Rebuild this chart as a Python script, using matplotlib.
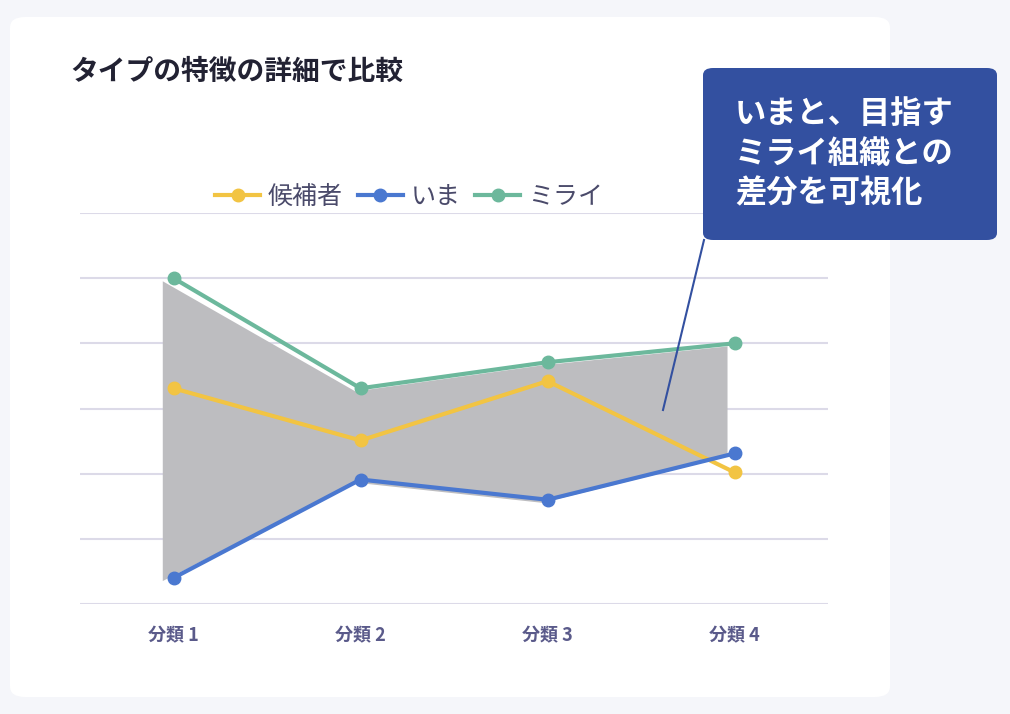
import numpy as np
import matplotlib.pyplot as plt
from matplotlib.patches import FancyBboxPatch

plt.rcParams['font.family'] = ['Noto Sans CJK JP', 'DejaVu Sans']

categories = ['分類 1', '分類 2', '分類 3', '分類 4']
candidate = [3.31, 2.51, 3.42, 2.02]
now = [0.4, 1.91, 1.6, 2.31]
future = [5.0, 3.31, 3.71, 4.0]

fig = plt.figure(figsize=(10.1, 7.14), dpi=100)
fig.patch.set_facecolor('#f5f6fa')

# white card
card = FancyBboxPatch((10 / 1010, 17 / 714), 880 / 1010, 680 / 714,
                      boxstyle='round,pad=0,rounding_size=0.015',
                      transform=fig.transFigure, facecolor='white', edgecolor='none', zorder=-10)
fig.patches.append(card)

ax = fig.add_axes([80 / 1010, 110 / 714, 748 / 1010, 391 / 714])
ax.set_zorder(2)
ax.set_facecolor('none')
ax.set_xlim(-0.5, 3.5)
ax.set_ylim(0, 6)
for v in range(7):
    ax.axhline(v, color='#dcdae8', lw=1.5, zorder=0)

x = np.arange(len(categories))
xf = x + np.array([-0.06, -0.03, -0.03, -0.04])
ax.fill_between(xf, np.array(now) - 0.04, np.array(future) - 0.04,
                color='#bdbdc0', zorder=1, lw=0)

ax.plot(x, candidate, color='#f2c443', lw=3, marker='o', ms=9, clip_on=False, zorder=3, label='候補者')
ax.plot(x, now, color='#4a78d0', lw=3, marker='o', ms=9, clip_on=False, zorder=3, label='いま')
ax.plot(x, future, color='#6cb89c', lw=3, marker='o', ms=9, clip_on=False, zorder=3, label='ミライ')

ax.set_xticks(x)
ax.set_xticklabels(categories, fontsize=13, fontweight='bold', color='#5a5a8a')
ax.tick_params(length=0, pad=16)
ax.set_yticks([])
for s in ax.spines.values():
    s.set_visible(False)

leg = ax.legend(loc='lower center', bbox_to_anchor=(0.44, 0.95), ncol=3, frameon=False,
                fontsize=18, handlelength=1.8, columnspacing=0.6, handletextpad=0.3)
for t in leg.get_texts():
    t.set_color('#4a4a6a')

fig.text(70 / 1010, 1 - 72 / 714, 'タイプの特徴の詳細で比較', fontsize=20, fontweight='bold',
         color='#222233', va='center')

# callout
box = FancyBboxPatch((703 / 1010, 1 - 240 / 714), 294 / 1010, 172 / 714,
                     boxstyle='round,pad=0,rounding_size=0.01',
                     transform=fig.transFigure, facecolor='#3350a0', edgecolor='none', zorder=5)
fig.patches.append(box)
fig.lines.append(plt.Line2D([704 / 1010, 663 / 1010], [1 - 240 / 714, 1 - 410 / 714],
                            transform=fig.transFigure, color='#3350a0', lw=1.5, zorder=5))
fig.text(735 / 1010, 1 - 154 / 714, 'いまと、目指す\nミライ組織との\n差分を可視化', fontsize=22.5,
         fontweight='bold', color='white', va='center', linespacing=1.3, zorder=6)

fig.savefig('out.png', dpi=100, facecolor=fig.get_facecolor())
